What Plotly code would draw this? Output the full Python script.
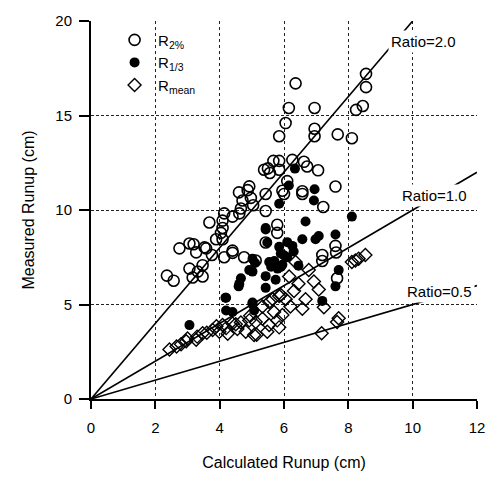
import plotly.graph_objects as go

# R2% runup: calculated (x) vs measured (y), cm
r2_x = [8.55, 8.55, 6.36, 6.15, 6.95, 8.45, 8.24, 6.05, 6.95, 6.95, 5.85, 7.67, 8.11,
        5.67, 5.85, 6.26, 6.72, 7.06, 5.56, 5.38, 5.85, 5.50, 6.10, 7.60, 6.57, 5.95,
        6.00, 6.57, 4.60, 4.87, 4.97, 5.43, 4.71, 4.66, 5.04, 5.43, 7.22, 4.14, 4.61,
        4.40, 3.68, 4.09, 4.09, 4.04, 3.89, 4.09, 3.19, 3.53, 4.40, 5.79, 5.79, 5.43,
        2.75, 3.06, 3.27, 3.58, 3.76, 3.47, 3.06, 3.32, 3.16, 3.47, 2.36, 2.57, 4.14,
        4.40, 4.76, 7.60, 7.62, 7.19, 7.19, 5.12, 7.65, 4.92, 6.62]
r2_y = [17.2, 16.5, 16.7, 15.4, 15.4, 15.5, 15.3, 14.6, 14.3, 13.9, 13.9, 14.0, 13.8,
        12.6, 12.6, 12.65, 12.3, 12.1, 11.96, 12.13, 12.13, 12.2, 11.53, 11.24, 10.99, 11.02,
        10.85, 10.85, 10.93, 11.05, 10.64, 10.85, 10.5, 10.08, 10.25, 9.95, 10.16, 9.82, 9.82,
        9.65, 9.34, 9.44, 9.05, 8.79, 8.45, 8.45, 8.19, 8.02, 7.85, 9.22, 8.79, 8.28,
        7.97, 8.23, 7.76, 7.97, 7.62, 7.08, 6.9, 6.74, 6.43, 6.48, 6.53, 6.26, 7.5,
        7.73, 7.5, 8.1, 7.75, 7.62, 7.3, 7.33, 6.39, 11.25, 12.55]

# R1/3 runup
r13_x = [6.34, 6.15, 6.95, 5.85, 6.93, 6.67, 8.11, 7.08, 7.60, 6.57, 6.98, 5.43, 5.48,
         5.85, 6.10, 5.90, 6.10, 6.30, 5.70, 5.60, 5.95, 6.00, 5.80, 5.02, 5.10, 5.02,
         4.66, 4.59, 5.43, 5.43, 5.74, 4.18, 3.06, 5.02, 4.20, 4.40, 5.07, 4.61, 4.20,
         7.70, 7.60, 7.19, 6.26, 5.43, 4.92, 5.90, 5.54, 5.02, 6.45]
r13_y = [12.19, 11.3, 11.1, 10.33, 10.5, 9.39, 9.65, 8.62, 8.7, 8.45, 8.45, 8.97, 8.28,
         8.05, 8.3, 7.7, 7.5, 7.8, 7.3, 7.0, 7.1, 7.6, 6.9, 7.42, 7.2, 6.74,
         6.39, 5.96, 5.88, 6.5, 6.31, 5.36, 3.91, 5.1, 4.68, 4.6, 4.68, 6.09, 5.36,
         6.82, 5.96, 5.19, 8.1, 9.05, 6.82, 6.99, 7.25, 5.02, 7.05]

# Rmean runup
rm_x = [2.44, 2.66, 2.96, 3.27, 3.47, 3.78, 3.99, 4.09, 4.40, 4.66, 4.92, 4.81, 5.07,
        5.15, 5.48, 5.85, 5.12, 5.33, 5.54, 5.79, 5.69, 6.05, 6.31, 6.67, 6.57, 7.24,
        7.08, 6.93, 6.16, 6.77, 6.36, 5.90, 5.54, 5.33, 5.65, 5.85, 8.11, 8.32, 8.53,
        8.22, 7.65, 7.70, 7.17, 4.20, 4.50, 3.30, 3.60, 3.00, 2.80, 4.25, 4.55, 5.95,
        6.20, 6.45, 3.90, 4.95]
rm_y = [2.62, 2.78, 3.05, 3.14, 3.48, 3.65, 3.56, 3.91, 4.0, 4.05, 4.16, 3.56, 3.39,
        3.4, 3.56, 3.79, 4.08, 4.25, 3.91, 4.16, 4.6, 5.28, 5.71, 5.28, 4.77, 4.85,
        5.79, 6.22, 6.48, 6.82, 7.25, 5.5, 5.13, 4.9, 5.28, 5.45, 7.25, 7.42, 7.62,
        7.33, 4.08, 4.27, 3.48, 3.75, 3.95, 3.3, 3.5, 3.2, 2.9, 3.45, 3.7, 4.45,
        4.9, 6.1, 3.85, 4.4]

# reference ratio lines: (label, slope, x end)
ratio_lines = [("Ratio=2.0", 2.0, 10.0), ("Ratio=1.0", 1.0, 12.0), ("Ratio=0.5", 0.5, 12.0)]
ratio_label_pos = [(10.33, 18.9), (10.67, 10.75), (10.83, 5.7)]

FONT = "Liberation Sans, Arial, Helvetica, sans-serif"

fig = go.Figure()

for name, slope, xend in ratio_lines:
    fig.add_trace(go.Scatter(
        x=[0, xend], y=[0, slope * xend], mode="lines",
        line=dict(color="black", width=1.6), showlegend=False, hoverinfo="skip"))

fig.add_trace(go.Scatter(
    x=r2_x, y=r2_y, mode="markers", name="R<sub>2%</sub>",
    marker=dict(symbol="circle-open", size=11, color="black", line=dict(width=1.6))))
fig.add_trace(go.Scatter(
    x=r13_x, y=r13_y, mode="markers", name="R<sub>1/3</sub>",
    marker=dict(symbol="circle", size=10, color="black", line=dict(width=0))))
fig.add_trace(go.Scatter(
    x=rm_x, y=rm_y, mode="markers", name="R<sub>mean</sub>",
    marker=dict(symbol="diamond-open", size=10, color="black", line=dict(width=1.4))))

for (label, _, _), (lx, ly) in zip(ratio_lines, ratio_label_pos):
    fig.add_annotation(x=lx, y=ly, text=label, showarrow=False, bgcolor="white",
                       font=dict(family=FONT, size=15, color="black"), borderpad=2)

fig.update_layout(
    width=497, height=481,
    margin=dict(l=91, r=18, t=12, b=80),
    paper_bgcolor="white", plot_bgcolor="white",
    font=dict(family=FONT, size=15, color="black"),
    legend=dict(x=0.052, y=0.993, xanchor="left", yanchor="top",
                bgcolor="rgba(0,0,0,0)", font=dict(size=15), tracegroupgap=2,
                itemwidth=37),
    showlegend=True,
)
fig.update_xaxes(
    range=[0, 12], tickvals=[0, 2, 4, 6, 8, 10, 12],
    showline=True, linecolor="black", linewidth=2,
    ticks="outside", ticklen=8, tickwidth=2, tickcolor="black",
    ticklabelstandoff=6,
    showgrid=True, gridcolor="#222", gridwidth=1, griddash="dot",
    zeroline=False,
    title=dict(text="Calculated Runup (cm)", font=dict(size=16), standoff=22),
)
fig.update_yaxes(
    range=[0, 20], tickvals=[0, 5, 10, 15, 20],
    showline=True, linecolor="black", linewidth=2,
    ticks="outside", ticklen=10, tickwidth=2, tickcolor="black",
    ticklabelstandoff=4,
    showgrid=True, gridcolor="#222", gridwidth=1, griddash="3px,2px",
    zeroline=False,
    title=dict(text="Measured Runup (cm)", font=dict(size=16), standoff=17),
)

fig.write_html("out.html")
